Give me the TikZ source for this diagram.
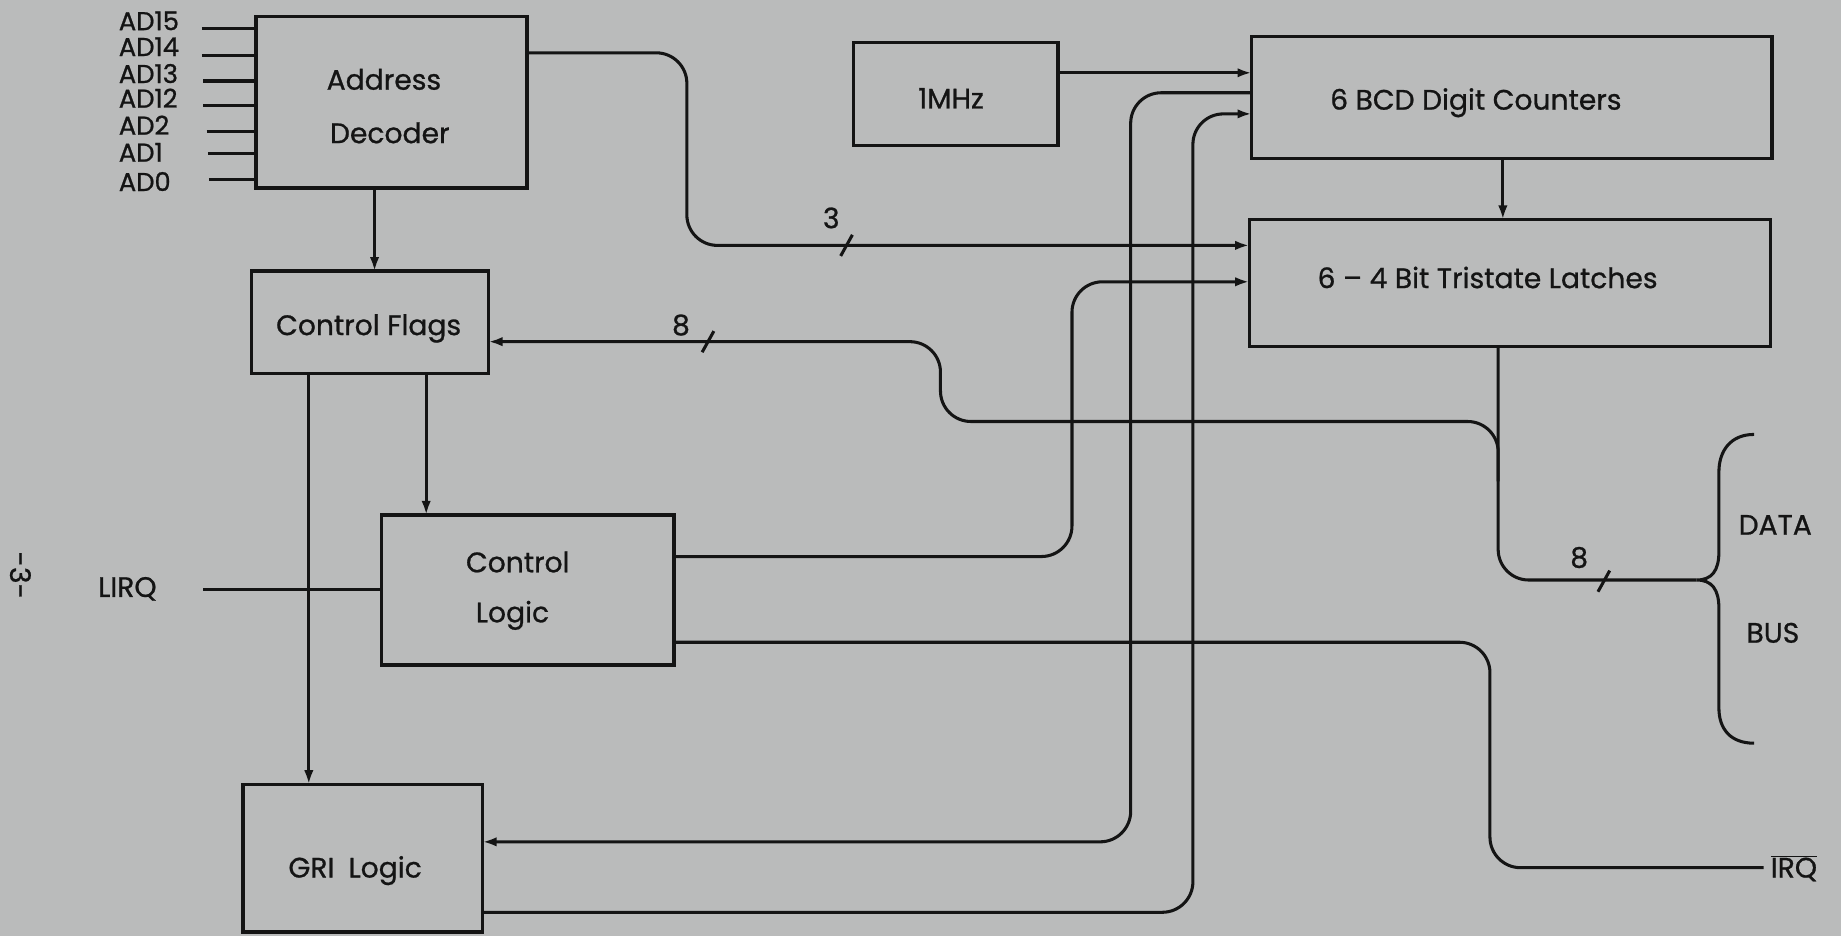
\documentclass[tikz,border=0pt]{standalone}
\usepackage{fontspec}
\setmainfont{Poppins}
\newfontfamily\dfont{Poppins}[FakeBold=0.8]
\usetikzlibrary{arrows.meta,calc}
\definecolor{bg}{RGB}{186,187,187}
\definecolor{ink}{RGB}{20,20,20}
\begin{document}
\begin{tikzpicture}[x=1pt,y=-1pt,
  box/.style={draw=ink,line width=3pt,inner sep=0pt,outer sep=0pt},
  wire/.style={draw=ink,line width=2.6pt,rounded corners=26pt},
  arr/.style={wire,-{Latex[length=12pt,width=8pt]}},
  txt/.style={font=\dfont\fontsize{24}{28}\selectfont,text=ink,inner sep=0pt,text height=16.8pt,text depth=0pt},
  lbl/.style={font=\dfont\fontsize{24}{28}\selectfont,text=ink,inner sep=0pt,text height=16.8pt,text depth=0pt},
  adl/.style={font=\dfont\fontsize{22}{26}\selectfont,text=ink,inner sep=0pt,text height=15.4pt,text depth=0pt},
  tick/.style={draw=ink,line width=2.6pt}]
\useasboundingbox (0,0) rectangle (1568,797);
\fill[bg] (0,0) rectangle (1568,797);

% boxes
\node[box,minimum width=231pt,minimum height=146pt] (ad) at (333.5,87) {};
\node[box,minimum width=202pt,minimum height=87pt] (cf) at (315,274.5) {};
\node[box,minimum width=249pt,minimum height=128pt] (cl) at (449.5,502.6) {};
\node[box,minimum width=204pt,minimum height=126pt] (gri) at (309,731) {};
\node[box,minimum width=174pt,minimum height=88pt] (mhz) at (814,80) {};
\node[box,minimum width=443pt,minimum height=104pt] (bcd) at (1287.5,83) {};
\node[box,minimum width=444pt,minimum height=108pt] (lat) at (1286,241) {};

% box texts
\node[txt] (tad1) at (327,68) {Address};
\node[txt] (tad2) at (332,113.5) {Decoder};
\node[txt] (tcf) at (314,277) {Control Flags};
\node[txt] (tcl1) at (441,479) {Control};
\node[txt] (tcl2) at (436.5,521.6) {Logic};
\node[txt] (tgri) at (302.5,739) {GRI\hspace{0.5em}Logic};
\node[txt] (tmhz) at (810,84) {1MHz};
\node[txt] (tbcd) at (1257,85) {6 BCD Digit Counters};
\node[txt] (tlat) at (1267,237) {6 – 4 Bit Tristate Latches};

% address inputs
\foreach \nm/\ty/\ly/\lx in {AD15/18/24/172,AD14/40/47/172,AD13/63/69/173,AD12/84/89.5/173,AD2/107/111.6/176,AD1/130/130.5/177,AD0/155/153/178}{
  \node[adl,anchor=west] (l\nm) at (101,\ty) {\nm};
  \draw[wire] (\lx,0 |- 0,\ly) -- (ad.west |- 0,\ly);
}

% other labels
\node[lbl] (lirq) at (108.5,500) {LIRQ};
\coordinate (lirqend) at (173,502);
\node[lbl,anchor=west,inner sep=0pt] (irq) at (1508,739) {$\overline{\hbox{IRQ}}$};
\coordinate (irqend) at (1502,739);
\node[lbl] (data) at (1512,447) {DATA};
\node[lbl] (bus) at (1510,539) {BUS};
\node[lbl,rotate=-90] (page) at (17,490) {-3-};
\node[lbl] (n3) at (708,186) {3};
\node[lbl] (n8a) at (580,277) {8};
\node[lbl] (n8b) at (1345,475) {8};
\coordinate (bracetip) at (1445,494);

% connectors
\draw[arr] (ad.south -| 319,0) -- (cf.north -| 319,0);
\draw[arr] (cf.south -| 263,0) -- (gri.north -| 263,0);
\draw[arr] (cf.south -| 363,0) -- (cl.north -| 363,0);
\draw[wire] (lirqend) -- (cl.west |- lirqend);
\draw[arr] (ad.east |- 0,45) -- (585,45) -- (585,209) -- (lat.west |- 0,209);
\draw[arr] (cl.east |- 0,474) -- (913,474) -- (913,240) -- (lat.west |- 0,240);
\draw[wire] (cl.east |- 0,547) -- (1269,547) -- (1269,739) -- (irqend);
\draw[arr] (mhz.east |- 0,62) -- (bcd.west |- 0,62);
\draw[arr] (bcd.west |- 0,79) -- (963,79) -- (963,717) -- (gri.east |- 0,717);
\draw[arr] (gri.east |- 0,777) -- (1016,777) -- (1016,97) -- (bcd.west |- 0,97);
\draw[arr] (bcd.south -| 1280,0) -- (lat.north -| 1280,0);
\draw[wire] (lat.south -| 1276,0) -- (1276,494) -- (bracetip);
\draw[arr] (1276,410) -- (1276,359) -- (801,359) -- (801,291) -- (cf.east |- 0,291);

% bus ticks
\draw[tick] (716,218) -- (726,200);
\draw[tick] (598,300) -- (608,282);
\draw[tick] (1361,504) -- (1371,486);

% brace
\draw[draw=ink,line width=2.6pt] (1494,370) .. controls (1474,370) and (1464,384) .. (1464,402)
  -- (1464,470) .. controls (1464,486) and (1458,494) .. (bracetip)
  .. controls (1458,494) and (1464,502) .. (1464,518)
  -- (1464,603) .. controls (1464,621) and (1474,633) .. (1494,633);
\end{tikzpicture}
\end{document}
